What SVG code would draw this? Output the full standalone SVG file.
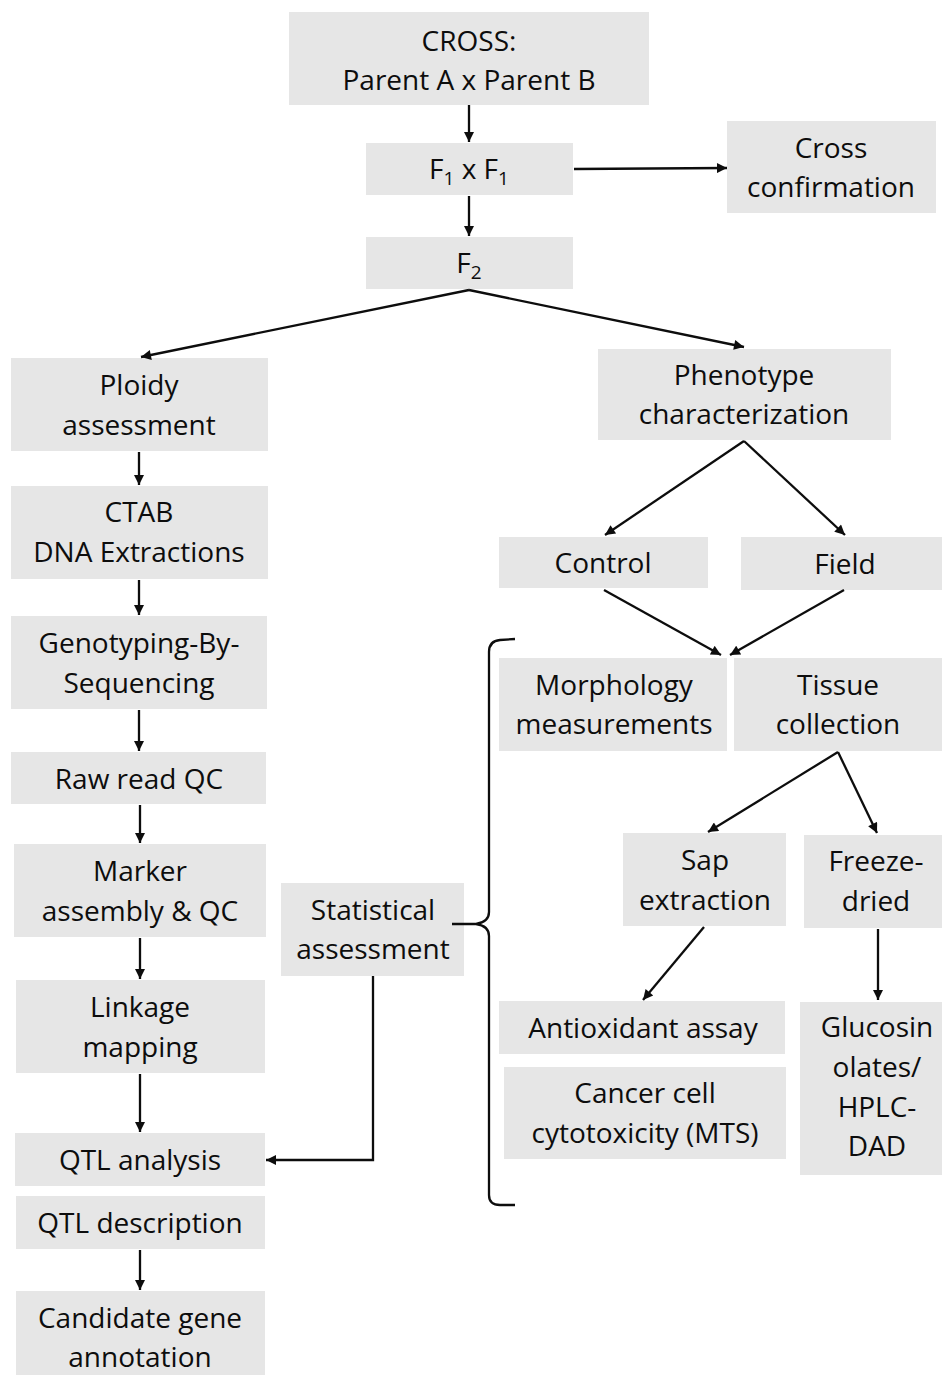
<svg xmlns="http://www.w3.org/2000/svg" width="942" height="1375" viewBox="0 0 942 1375">
<defs>
<style>
.box{fill:#e6e6e6;}
.t{font-family:"Open Sans","Noto Sans","Liberation Sans",sans-serif;font-size:28px;fill:#0d0d0d;text-anchor:middle;}
.c{fill:none;stroke:#0d0d0d;stroke-width:2.3;}
</style>
<marker id="ah" viewBox="0 0 10 10" refX="10" refY="5" markerWidth="12" markerHeight="10" markerUnits="userSpaceOnUse" orient="auto">
<path d="M0,0 L10,5 L0,10 z" fill="#0d0d0d"/>
</marker>
</defs>
<rect width="942" height="1375" fill="#fff"/>

<g id="cross"><rect class="box" x="289" y="12" width="360" height="93"/>
<text class="t" x="469" y="51">CROSS:</text><text class="t" x="469" y="90">Parent A x Parent B</text></g>

<g id="f1"><rect class="box" x="366" y="143" width="207" height="52"/>
<text class="t" x="469" y="179">F<tspan font-size="19" dy="6">1</tspan><tspan dy="-6"> x F</tspan><tspan font-size="19" dy="6">1</tspan></text></g>

<g id="crossconf"><rect class="box" x="727" y="121" width="209" height="92"/>
<text class="t" x="831" y="158">Cross</text><text class="t" x="831" y="197">confirmation</text></g>

<g id="f2"><rect class="box" x="366" y="237" width="207" height="52"/>
<text class="t" x="469" y="273">F<tspan font-size="19" dy="6">2</tspan></text></g>

<g id="ploidy"><rect class="box" x="11" y="358" width="257" height="93"/>
<text class="t" x="139" y="395">Ploidy</text><text class="t" x="139" y="435">assessment</text></g>

<g id="phenotype"><rect class="box" x="598" y="349" width="293" height="91"/>
<text class="t" x="744" y="385">Phenotype</text><text class="t" x="744" y="424">characterization</text></g>

<g id="ctab"><rect class="box" x="11" y="486" width="257" height="93"/>
<text class="t" x="139" y="522">CTAB</text><text class="t" x="139" y="562">DNA Extractions</text></g>

<g id="control"><rect class="box" x="499" y="537" width="209" height="51"/>
<text class="t" x="603" y="573">Control</text></g>

<g id="field"><rect class="box" x="741" y="537" width="201" height="53"/>
<text class="t" x="845" y="574">Field</text></g>

<g id="gbs"><rect class="box" x="11" y="616" width="256" height="93"/>
<text class="t" x="139" y="653">Genotyping-By-</text><text class="t" x="139" y="693">Sequencing</text></g>

<g id="morph"><rect class="box" x="499" y="658" width="228" height="93"/>
<text class="t" x="614" y="695">Morphology</text><text class="t" x="614" y="734">measurements</text></g>

<g id="tissue"><rect class="box" x="734" y="658" width="208" height="93"/>
<text class="t" x="838" y="695">Tissue</text><text class="t" x="838" y="734">collection</text></g>

<g id="rawqc"><rect class="box" x="11" y="752" width="255" height="52"/>
<text class="t" x="139" y="789">Raw read QC</text></g>

<g id="marker"><rect class="box" x="14" y="844" width="252" height="93"/>
<text class="t" x="140" y="881">Marker</text><text class="t" x="140" y="921">assembly &amp; QC</text></g>

<g id="stat"><rect class="box" x="281" y="883" width="183" height="93"/>
<text class="t" x="373" y="920">Statistical</text><text class="t" x="373" y="959">assessment</text></g>

<g id="sap"><rect class="box" x="623" y="833" width="163" height="93"/>
<text class="t" x="705" y="870">Sap</text><text class="t" x="705" y="910">extraction</text></g>

<g id="freeze"><rect class="box" x="804" y="835" width="138" height="93"/>
<text class="t" x="876" y="871">Freeze-</text><text class="t" x="876" y="911">dried</text></g>

<g id="linkage"><rect class="box" x="16" y="980" width="249" height="93"/>
<text class="t" x="140" y="1017">Linkage</text><text class="t" x="140" y="1057">mapping</text></g>

<g id="antiox"><rect class="box" x="499" y="1001" width="286" height="53"/>
<text class="t" x="643" y="1038">Antioxidant assay</text></g>

<g id="cancer"><rect class="box" x="504" y="1067" width="282" height="92"/>
<text class="t" x="645" y="1103">Cancer cell</text><text class="t" x="645" y="1143">cytotoxicity (MTS)</text></g>

<g id="gluco"><rect class="box" x="800" y="1002" width="142" height="173"/>
<text class="t" x="877" y="1037">Glucosin</text><text class="t" x="877" y="1077">olates/</text><text class="t" x="877" y="1117">HPLC-</text><text class="t" x="877" y="1156">DAD</text></g>

<g id="qtla"><rect class="box" x="15" y="1133" width="250" height="53"/>
<text class="t" x="140" y="1170">QTL analysis</text></g>

<g id="qtld"><rect class="box" x="16" y="1196" width="249" height="53"/>
<text class="t" x="140" y="1233">QTL description</text></g>

<g id="candidate"><rect class="box" x="16" y="1291" width="249" height="84"/>
<text class="t" x="140" y="1328">Candidate gene</text><text class="t" x="140" y="1367">annotation</text></g>

<g id="connectors">
<line class="c" x1="469" y1="105" x2="469" y2="142" marker-end="url(#ah)"/>
<line class="c" x1="469" y1="196" x2="469" y2="236" marker-end="url(#ah)"/>
<line class="c" x1="574" y1="169" x2="727" y2="168" marker-end="url(#ah)"/>
<line class="c" x1="469" y1="290" x2="141" y2="357" marker-end="url(#ah)"/>
<line class="c" x1="469" y1="290" x2="744" y2="347" marker-end="url(#ah)"/>
<line class="c" x1="139" y1="452" x2="139" y2="485" marker-end="url(#ah)"/>
<line class="c" x1="139" y1="580" x2="139" y2="615" marker-end="url(#ah)"/>
<line class="c" x1="139" y1="710" x2="139" y2="751" marker-end="url(#ah)"/>
<line class="c" x1="140" y1="805" x2="140" y2="843" marker-end="url(#ah)"/>
<line class="c" x1="140" y1="938" x2="140" y2="979" marker-end="url(#ah)"/>
<line class="c" x1="140" y1="1074" x2="140" y2="1132" marker-end="url(#ah)"/>
<line class="c" x1="140" y1="1250" x2="140" y2="1290" marker-end="url(#ah)"/>
<path class="c" d="M373,976 L373,1160 L266,1160" marker-end="url(#ah)"/>
<line class="c" x1="744" y1="441" x2="605" y2="535" marker-end="url(#ah)"/>
<line class="c" x1="744" y1="441" x2="845" y2="535" marker-end="url(#ah)"/>
<line class="c" x1="604" y1="590" x2="721" y2="655" marker-end="url(#ah)"/>
<line class="c" x1="844" y1="590" x2="730" y2="655" marker-end="url(#ah)"/>
<line class="c" x1="838" y1="752" x2="708" y2="832" marker-end="url(#ah)"/>
<line class="c" x1="838" y1="752" x2="877" y2="833" marker-end="url(#ah)"/>
<line class="c" x1="704" y1="927" x2="643" y2="1000" marker-end="url(#ah)"/>
<line class="c" x1="878" y1="929" x2="878" y2="1000" marker-end="url(#ah)"/>
<path class="c" d="M515,639 L500,640 Q489,641 489,652 L489,912 Q489,922 476,924 L452,924 M476,924 Q489,926 489,936 L489,1195 Q489,1205 500,1205 L515,1205"/>
</g>
</svg>
